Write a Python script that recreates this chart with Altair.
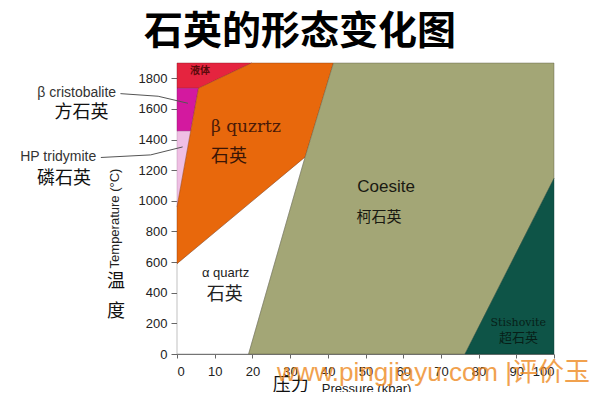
import altair as alt
import pandas as pd

# ---- phase-field boundaries: pressure (kbar) and temperature (°C) ----
liquid_p = [0, 0, 5.7, 19.8, 0]
liquid_t = [1900, 1735, 1735, 1900, 1900]
cristobalite_p = [0, 0, 5.7, 3.6, 0]
cristobalite_t = [1455, 1735, 1735, 1455, 1455]
tridymite_p = [0, 0, 3.6, 0]
tridymite_t = [960, 1455, 1455, 960]
beta_quartz_p = [0, 5.7, 19.8, 41.5, 34, 0, 0]
beta_quartz_t = [960, 1735, 1900, 1900, 1287, 590, 960]
alpha_quartz_p = [0, 0, 34, 19, 0]
alpha_quartz_t = [0, 590, 1287, 0, 0]
coesite_p = [19, 34, 41.5, 100, 100, 76.4, 19]
coesite_t = [0, 1287, 1900, 1900, 1146, 0, 0]
stishovite_p = [76.4, 100, 100, 76.4]
stishovite_t = [0, 0, 1146, 0]

x_ticks = [0, 10, 20, 30, 40, 50, 60, 70, 80, 90, 100]
y_ticks = [0, 200, 400, 600, 800, 1000, 1200, 1400, 1600, 1800]

regions = [
    ("alpha", alpha_quartz_p, alpha_quartz_t, "#ffffff", "#6a6a6a"),
    ("liquid", liquid_p, liquid_t, "#e5243f", "#8a1a22"),
    ("cristobalite", cristobalite_p, cristobalite_t, "#d3199f", "#8a1a6a"),
    ("tridymite", tridymite_p, tridymite_t, "#efbfe4", "#b58aa8"),
    ("beta", beta_quartz_p, beta_quartz_t, "#e8680c", "#8a3a10"),
    ("coesite", coesite_p, coesite_t, "#a3a676", "#5a5a40"),
    ("stishovite", stishovite_p, stishovite_t, "#0e5447", "#0a3a30"),
]

rows = []
for name, ps, ts, _, _ in regions:
    for i, (p, t) in enumerate(zip(ps, ts)):
        rows.append({"region": name, "i": i, "P": p, "T": t})
df = pd.DataFrame(rows)

xs = alt.Scale(domain=[0, 100], nice=False, zero=False)
ys = alt.Scale(domain=[0, 1900], nice=False, zero=False)

x_axis = alt.Axis(values=x_ticks, format="d", grid=False, tickSize=4, labelPadding=7,
                  domainColor="#777", tickColor="#666", labelColor="#222",
                  labelFont="Liberation Sans", labelFontSize=13,
                  title="Pressure (kbar)", titleFont="Liberation Sans",
                  titleFontSize=13, titleFontWeight="normal", titleColor="#222",
                  titleX=189, titleY=34, titleBaseline="middle", titleAlign="center")
y_axis = alt.Axis(values=y_ticks, format="d", grid=False, tickSize=6, labelPadding=4,
                  domainColor="#777", tickColor="#666", labelColor="#222",
                  labelFont="Liberation Sans", labelFontSize=13,
                  title="Temperature (°C)", titleFont="Liberation Sans",
                  titleFontSize=13, titleFontWeight="normal", titleColor="#222",
                  titleX=-63, titleY=155, titleBaseline="middle", titleAlign="center",
                  titleAngle=270)


def X():
    return alt.X("P:Q", scale=xs, axis=x_axis)


def Y():
    return alt.Y("T:Q", scale=ys, axis=y_axis)


layers = []
for name, ps, ts, fill, stroke in regions:
    layers.append(
        alt.Chart(df).transform_filter(alt.datum.region == name)
        .mark_line(filled=True, fill=fill, stroke=stroke, strokeWidth=0.6,
                   strokeOpacity=0.7, interpolate="linear")
        .encode(x=X(), y=Y(), order="i:Q")
    )

# leader lines for the side labels
leaders = pd.DataFrame([
    {"g": "c", "i": 0, "P": -15.0, "T": 1700},
    {"g": "c", "i": 1, "P": -5.0, "T": 1683},
    {"g": "c", "i": 2, "P": 2.9, "T": 1637},
    {"g": "h", "i": 0, "P": -20.2, "T": 1283},
    {"g": "h", "i": 1, "P": -7.0, "T": 1300},
    {"g": "h", "i": 2, "P": 1.5, "T": 1352},
])
layers.append(
    alt.Chart(leaders).mark_line(stroke="#555", strokeWidth=1)
    .encode(x=X(), y=Y(), detail="g:N", order="i:Q")
)

CJK = "Noto Sans CJK SC"
SANS = "Liberation Sans"
SERIF = "DejaVu Serif"

# text, P, T, size, color, font, weight, align
labels = [
    ("石英的形态变化图", 32.6, 2100, 39, "#000000", CJK, "bold", "center"),
    ("液体", 6.1, 1850, 10, "#5a0a0a", CJK, "bold", "center"),
    ("β  quzrtz", 9.0, 1480, 17, "#4a1a08", SERIF, "normal", "left"),
    ("石英", 9.0, 1288, 18, "#3a1506", CJK, "normal", "left"),
    ("Coesite", 47.8, 1090, 17, "#1a1a12", SANS, "normal", "left"),
    ("柯石英", 47.6, 895, 15, "#1a1a12", CJK, "normal", "left"),
    ("α quartz", 6.6, 527, 13, "#222222", SANS, "normal", "left"),
    ("石英", 7.9, 383, 18, "#222222", CJK, "normal", "left"),
    ("Stishovite", 90.5, 201, 11, "#071f18", SERIF, "normal", "center"),
    ("超石英", 90.6, 104, 13, "#071f18", CJK, "normal", "center"),
    ("β  cristobalite", -26.6, 1705, 14, "#333333", SANS, "normal", "center"),
    ("方石英", -25.3, 1572, 18, "#111111", CJK, "normal", "center"),
    ("HP tridymite", -31.5, 1288, 14, "#333333", SANS, "normal", "center"),
    ("磷石英", -30.0, 1143, 18, "#111111", CJK, "normal", "center"),
    ("温", -16.2, 471, 18, "#111111", CJK, "normal", "center"),
    ("度", -16.2, 272, 18, "#111111", CJK, "normal", "center"),
    ("压力", 30.2, -208, 18, "#111111", CJK, "normal", "center"),
]
for text, p, t, size, color, font, weight, align in labels:
    layers.append(
        alt.Chart(pd.DataFrame([{"P": p, "T": t, "label": text}]))
        .mark_text(fontSize=size, color=color, font=font, fontWeight=weight,
                   align=align, baseline="middle")
        .encode(x=X(), y=Y(), text="label:N")
    )

# watermark
layers.append(
    alt.Chart(pd.DataFrame([{"P": 26.5, "T": -124, "label": "www.pingjiayu.com |评价玉"}]))
    .mark_text(fontSize=26, color="#ee8a22", opacity=0.8, font="Liberation Sans, Noto Sans CJK SC",
               align="left", baseline="middle")
    .encode(x=X(), y=Y(), text="label:N")
)

chart = alt.layer(*layers).properties(
    width=377, height=291,
    autosize=alt.AutoSizeParams(type="none"),
    padding={"left": 169, "top": 55, "right": 38, "bottom": 38},
).configure_view(stroke="transparent")

chart.save("out.html", embed_options={"renderer": "svg", "actions": False})
